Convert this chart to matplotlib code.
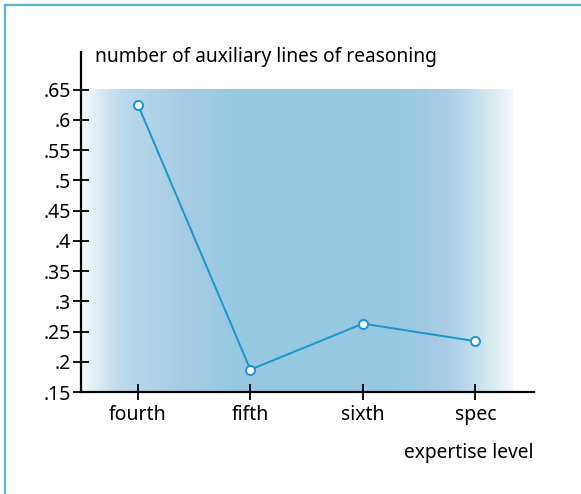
import numpy as np
import matplotlib
matplotlib.use("Agg")
import matplotlib.pyplot as plt
from matplotlib.colors import LinearSegmentedColormap
from matplotlib.lines import Line2D

categories = ["fourth", "fifth", "sixth", "spec"]
values = [0.625, 0.187, 0.263, 0.234]
yticks = [0.15, 0.2, 0.25, 0.3, 0.35, 0.4, 0.45, 0.5, 0.55, 0.6, 0.65]
ytick_labels = [".15", ".2", ".25", ".3", ".35", ".4", ".45", ".5", ".55", ".6", ".65"]

plt.rcParams['font.family'] = ['Noto Sans', 'DejaVu Sans']

fig = plt.figure(figsize=(5.81, 4.94), dpi=100)
ax = fig.add_axes([81/581, 1-392/494, (534-81)/581, (392-52)/494])

xmin, xmax = -0.505, 3.52
ymin, ymax = 0.15, 0.712
ax.set_xlim(xmin, xmax)
ax.set_ylim(ymin, ymax)

# horizontal gradient background
gx0, gx1 = xmin, 3.33
stops = [(0.0, "#f7f9fd"), (0.04, "#dcebf5"), (0.09, "#bddaec"), (0.12, "#b6d6ea"),
         (0.24, "#a6cce3"), (0.34, "#98c9e2"), (0.72, "#96c8e2"), (0.80, "#a0cae3"),
         (0.86, "#aecfe5"), (0.90, "#bddaec"), (0.95, "#d6eaef"), (1.0, "#f6f7fc")]
cmap = LinearSegmentedColormap.from_list("bg", stops)
grad = np.linspace(0, 1, 512).reshape(1, -1)
ax.imshow(grad, cmap=cmap, aspect='auto', extent=[gx0, gx1, ymin, 0.65],
          interpolation='bilinear', zorder=0)

x = np.arange(len(categories))
ax.plot(x, values, color="#1a96cc", lw=1.4, marker='o', ms=6.5,
        markerfacecolor='white', markeredgecolor="#1a96cc", markeredgewidth=1.4, zorder=3)

for s in ['top', 'right']:
    ax.spines[s].set_visible(False)
for s in ['left', 'bottom']:
    ax.spines[s].set_linewidth(1.6)
    ax.spines[s].set_color('black')

ax.set_xticks(x)
ax.set_xticklabels(categories, fontsize=14)
ax.set_yticks(yticks)
ax.set_yticklabels(ytick_labels, fontsize=14)
ax.tick_params(axis='both', direction='inout', length=12, width=1.3, colors='black')
ax.tick_params(axis='y', pad=1.5)
ax.tick_params(axis='x', pad=3)

fig.text(95/581, 1-57/494, "number of auxiliary lines of reasoning", fontsize=13.8,
         ha='left', va='center')
fig.text(533/581, 1-453/494, "expertise level", fontsize=13.8, ha='right', va='center')

# outer frame lines
fig.add_artist(Line2D([5/581, 1], [1-5/494, 1-5/494], color="#5ab4d8", lw=1.6,
                      transform=fig.transFigure))
fig.add_artist(Line2D([5/581, 5/581], [0, 1-5/494], color="#5ab4d8", lw=1.6,
                      transform=fig.transFigure))

fig.savefig("out.png", dpi=100)
